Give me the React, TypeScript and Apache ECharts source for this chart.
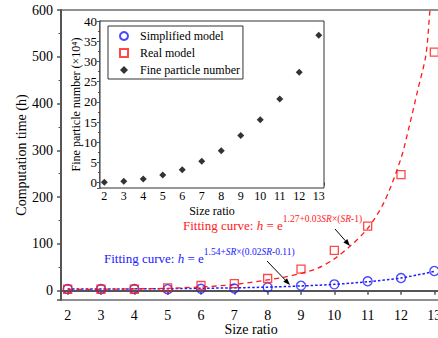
import React, { useEffect, useRef } from 'react';
import * as echarts from 'echarts';

const sizeRatio = [2, 3, 4, 5, 6, 7, 8, 9, 10, 11, 12, 13];
const simplifiedTime = [3.5, 3.5, 3.5, 3, 4, 4.5, 7, 10.5, 13.5, 20, 27, 42];
const realTime = [3, 3, 3, 6, 11, 15, 26, 46, 86, 138, 248, 510];
const fineParticles = [0.1, 0.35, 0.9, 1.9, 3.2, 5.3, 7.9, 11.7, 15.6, 20.7, 27.3, 36.5];

const simplifiedFitX = [2, 3, 4, 5, 6, 7, 8, 9, 10, 11, 12, 13];
const simplifiedFitY = [3.5, 3.6, 3.8, 4.2, 5, 6, 7.5, 10, 13.5, 19, 27, 41];
const realFitX = [2, 3, 4, 5, 6, 7, 8, 8.5, 9, 9.5, 10, 10.5, 11, 11.5, 12, 12.25, 12.5, 12.75, 12.87, 13];
const realFitY = [2.5, 3, 3.8, 5, 8, 13, 23, 29, 37, 48, 68, 97, 133, 190, 283, 352, 428, 505, 600, 680];

const mainTicksY = { min: -20, max: 600 };
const insetTicksY = { min: -1.3, max: 40 };

const FONT = 'Liberation Serif';

const intLabel = (v: number) => (Math.abs(v - Math.round(v)) < 1e-6 ? String(Math.round(v)) : '');
const nonNegLabel = (v: number) => (v >= -1e-6 ? String(Math.round(v)) : '');

function arrow(x1: number, y1: number, x2: number, y2: number) {
  const dx = x2 - x1, dy = y2 - y1;
  const len = Math.sqrt(dx * dx + dy * dy);
  const ux = dx / len, uy = dy / len;
  const hl = 7, hw = 2.6;
  const bx = x2 - ux * hl, by = y2 - uy * hl;
  const px = -uy * hw, py = ux * hw;
  return [
    { type: 'line', shape: { x1, y1, x2: bx, y2: by }, style: { stroke: '#000', lineWidth: 1 }, z: 100 },
    { type: 'polygon', shape: { points: [[x2, y2], [bx + px, by + py], [bx - px, by - py]] }, style: { fill: '#000' }, z: 100 },
  ];
}

function formulaRich(color: string) {
  const base = { fontFamily: FONT, fontSize: 13, lineHeight: 14, fill: color, verticalAlign: 'bottom' };
  const sup = { fontFamily: FONT, fontSize: 9.5, lineHeight: 10, fill: color, verticalAlign: 'bottom', padding: [0, 0, 8, 0] };
  return {
    n: base,
    i: { ...base, fontStyle: 'italic' },
    s: sup,
    si: { ...sup, fontStyle: 'italic' },
  };
}

export default function App() {
  const ref = useRef<HTMLDivElement>(null);
  useEffect(() => {
    const chart = echarts.init(ref.current!, null, { renderer: 'svg' });
    const zip = (xs: number[], ys: number[]) => xs.map((x, i) => [x, ys[i]]);
    const option: any = {
      animation: false,
      backgroundColor: '#fff',
      grid: [
        { left: 61, top: 10, width: 380, height: 290, show: true, borderColor: '#222', borderWidth: 1, backgroundColor: 'transparent', containLabel: false, outerBoundsMode: 'none' },
        { left: 100, top: 21, width: 224, height: 167, show: true, borderColor: '#333', borderWidth: 1, backgroundColor: '#fff', z: 3, containLabel: false, outerBoundsMode: 'none' },
      ],
      xAxis: [
        {
          type: 'value', gridIndex: 0, min: 1.8, max: 13.2, splitNumber: 11,
          splitLine: { show: false },
          axisLine: { show: true, lineStyle: { color: '#555', width: 2 } },
          axisTick: { show: true, length: 4, lineStyle: { color: '#555', width: 1.5 } },
          axisLabel: { formatter: intLabel, fontFamily: FONT, fontSize: 14, color: '#000', margin: 8 },
          name: 'Size ratio', nameLocation: 'middle', nameGap: 22, nameMoveOverlap: false,
          nameTextStyle: { fontFamily: FONT, fontSize: 14, color: '#000' },
        },
        {
          type: 'value', gridIndex: 1, min: 1.78, max: 13.27, splitNumber: 11,
          splitLine: { show: false },
          axisLine: { show: true, lineStyle: { color: '#555', width: 1.5 } },
          axisTick: { show: true, length: 3, lineStyle: { color: '#555', width: 1 } },
          axisLabel: { formatter: intLabel, fontFamily: FONT, fontSize: 12, color: '#000', margin: 2 },
          name: 'Size ratio', nameLocation: 'middle', nameGap: 17, nameMoveOverlap: false,
          nameTextStyle: { fontFamily: FONT, fontSize: 12, color: '#000' },
        },
      ],
      yAxis: [
        {
          type: 'value', gridIndex: 0, min: mainTicksY.min, max: mainTicksY.max, splitNumber: 6,
          splitLine: { show: false },
          axisLine: { show: true, lineStyle: { color: '#555', width: 2 } },
          axisTick: { show: true, length: 4, lineStyle: { color: '#555', width: 1.5 } },
          minorTick: { show: true, splitNumber: 2, length: 2.5, lineStyle: { color: '#555', width: 1 } },
          axisLabel: { formatter: nonNegLabel, fontFamily: FONT, fontSize: 14, color: '#000', margin: 8 },
          name: 'Computation time (h)', nameLocation: 'middle', nameGap: 33, nameMoveOverlap: false,
          nameTextStyle: { fontFamily: FONT, fontSize: 14, color: '#000' },
        },
        {
          type: 'value', gridIndex: 1, min: insetTicksY.min, max: insetTicksY.max, splitNumber: 8,
          splitLine: { show: false },
          axisLine: { show: true, lineStyle: { color: '#555', width: 1.5 } },
          axisTick: { show: true, length: 3, lineStyle: { color: '#555', width: 1 } },
          minorTick: { show: true, splitNumber: 2, length: 2, lineStyle: { color: '#555', width: 1 } },
          axisLabel: { formatter: nonNegLabel, fontFamily: FONT, fontSize: 13, color: '#000', margin: 3 },
          name: 'Fine particle number (×10⁴)', nameLocation: 'middle', nameGap: 18, nameMoveOverlap: false,
          nameTextStyle: { fontFamily: FONT, fontSize: 12, color: '#000' },
        },
      ],
      legend: {
        left: 108, top: 26, orient: 'vertical',
        padding: [4, 3, 3, 11], itemGap: 5, itemWidth: 8, itemHeight: 8,
        borderColor: '#333', borderWidth: 1, backgroundColor: '#fff',
        textStyle: { fontFamily: FONT, fontSize: 12, color: '#000', padding: [0, 0, 0, 7] },
        data: ['Simplified model', 'Real model', 'Fine particle number'],
        z: 10,
      },
      series: [
        {
          name: 'Simplified fit', type: 'line', xAxisIndex: 0, yAxisIndex: 0,
          data: zip(simplifiedFitX, simplifiedFitY), showSymbol: false, smooth: 0.3,
          lineStyle: { color: '#1a1aff', width: 1.5, type: [2.5, 2] }, z: 2,
        },
        {
          name: 'Real fit', type: 'line', xAxisIndex: 0, yAxisIndex: 0,
          data: zip(realFitX, realFitY), showSymbol: false, smooth: 0.3, clip: true,
          lineStyle: { color: '#ff1a1a', width: 1.3, type: [5, 4] }, z: 2,
        },
        {
          name: 'Simplified model', type: 'scatter', xAxisIndex: 0, yAxisIndex: 0,
          data: zip(sizeRatio, simplifiedTime), symbol: 'circle', symbolSize: 9,
          itemStyle: { color: 'rgba(255,255,255,0)', borderColor: '#1a1aff', borderWidth: 1.3 }, z: 4,
        },
        {
          name: 'Real model', type: 'scatter', xAxisIndex: 0, yAxisIndex: 0,
          data: zip(sizeRatio, realTime), symbol: 'rect', symbolSize: 8,
          itemStyle: { color: 'rgba(255,255,255,0)', borderColor: '#ff1a1a', borderWidth: 1.3 }, z: 4,
        },
        {
          name: 'Fine particle number', type: 'scatter', xAxisIndex: 1, yAxisIndex: 1,
          data: zip(sizeRatio, fineParticles), symbol: 'diamond', symbolSize: 7,
          itemStyle: { color: '#000' }, z: 5,
        },
      ],
      graphic: [
        {
          type: 'text', x: 183, y: 232, z: 100,
          style: {
            text: '{n|Fitting curve: }{i|h}{n| = e}{s|1.27+0.03}{si|SR}{s|×(}{si|SR}{s|-1)}',
            rich: formulaRich('#ff2020'), verticalAlign: 'bottom', fill: '#ff2020',
          },
        },
        {
          type: 'text', x: 104, y: 265, z: 100,
          style: {
            text: '{n|Fitting curve: }{i|h}{n| = e}{s|1.54+}{si|SR}{s|×(0.02}{si|SR}{s|-0.11)}',
            rich: formulaRich('#2020ff'), verticalAlign: 'bottom', fill: '#2020ff',
          },
        },
        ...arrow(335, 229, 350, 246),
        ...arrow(267, 261, 290, 285),
      ],
    };
    chart.setOption(option);
    return () => chart.dispose();
  }, []);
  return <div ref={ref} style={{ position: 'fixed', left: 0, top: 0, width: 438, height: 338 }} />;
}
